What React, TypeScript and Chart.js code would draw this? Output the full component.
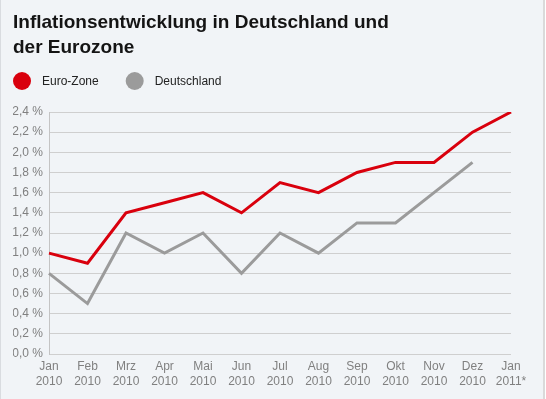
import React, { useEffect, useRef } from 'react';
import { Chart, registerables } from 'chart.js';

Chart.register(...registerables);

const categories: string[][] = [
  ['Jan', '2010'], ['Feb', '2010'], ['Mrz', '2010'], ['Apr', '2010'], ['Mai', '2010'],
  ['Jun', '2010'], ['Jul', '2010'], ['Aug', '2010'], ['Sep', '2010'], ['Okt', '2010'],
  ['Nov', '2010'], ['Dez', '2010'], ['Jan', '2011*'],
];
const euroZone: (number | null)[] = [1.0, 0.9, 1.4, 1.5, 1.6, 1.4, 1.7, 1.6, 1.8, 1.9, 1.9, 2.2, 2.4];
const deutschland: (number | null)[] = [0.8, 0.5, 1.2, 1.0, 1.2, 0.8, 1.2, 1.0, 1.3, 1.3, 1.6, 1.9, null];
const seriesNames = ['Euro-Zone', 'Deutschland'];
const titleLines = ['Inflationsentwicklung in Deutschland und', 'der Eurozone'];
const yMin = 0;
const yMax = 2.4;
const yStep = 0.2;

const FONT = 'Arial, "Liberation Sans", sans-serif';

const legendPlugin = {
  id: 'customLegend',
  afterDraw(chart: any) {
    const ctx = chart.ctx as CanvasRenderingContext2D;
    ctx.save();
    ctx.font = `12px ${FONT}`;
    ctx.textBaseline = 'middle';
    ctx.textAlign = 'left';
    let x = 22;
    const y = 81;
    chart.data.datasets.forEach((ds: any) => {
      ctx.beginPath();
      ctx.arc(x, y, 9, 0, Math.PI * 2);
      ctx.fillStyle = ds.borderColor;
      ctx.fill();
      ctx.fillStyle = '#222222';
      ctx.fillText(ds.label, x + 20, y + 1);
      x += 20 + ctx.measureText(ds.label).width + 36;
    });
    ctx.restore();
  },
};

export default function App() {
  const canvasRef = useRef<HTMLCanvasElement | null>(null);

  useEffect(() => {
    document.body.style.margin = '0';
    const canvas = canvasRef.current;
    if (!canvas) return;
    Chart.defaults.font.family = FONT;
    const chart = new Chart(canvas, {
      type: 'line',
      data: {
        labels: categories,
        datasets: [
          {
            label: seriesNames[0],
            data: euroZone,
            borderColor: '#d9000d',
            backgroundColor: '#d9000d',
            borderWidth: 3,
            pointRadius: 0,
            tension: 0,
            fill: false,
          } as any,
          {
            label: seriesNames[1],
            data: deutschland,
            borderColor: '#9b9b9b',
            backgroundColor: '#9b9b9b',
            borderWidth: 3,
            pointRadius: 0,
            tension: 0,
            fill: false,
          } as any,
        ],
      },
      options: {
        animation: false,
        responsive: false,
        devicePixelRatio: 1,
        layout: { padding: { left: 13, right: 35, top: 0, bottom: 13 } },
        plugins: {
          legend: { display: false },
          tooltip: { enabled: false },
          title: {
            display: true,
            text: titleLines,
            align: 'start',
            color: '#141414',
            font: { family: FONT, size: 19, weight: 'bold', lineHeight: 25 / 19 },
            padding: { top: 10, bottom: 52 },
          },
        },
        scales: {
          x: {
            type: 'category',
            offset: false,
            grid: { display: false },
            border: { display: false },
            ticks: {
              color: '#808080',
              font: { family: FONT, size: 12, lineHeight: 1.25 },
              padding: -3,
              maxRotation: 0,
              autoSkip: false,
            },
          },
          y: {
            min: yMin,
            max: yMax,
            afterFit: (scale: any) => { scale.width = 36; },
            grid: { color: '#cfcfcf', lineWidth: 1, drawTicks: false },
            border: { display: true, color: '#c4c4c4', width: 1 },
            ticks: {
              stepSize: yStep,
              color: '#808080',
              padding: 6,
              font: { family: FONT, size: 12 },
              callback: (v: any) => Number(v).toFixed(1).replace('.', ',') + ' %',
            },
          },
        },
      },
      plugins: [legendPlugin],
    } as any);
    return () => chart.destroy();
  }, []);

  return (
    <div style={{ position: 'absolute', left: 0, top: 0, width: 546, height: 399, background: '#ffffff' }}>
      <div
        style={{
          position: 'absolute', left: 0, top: 0, width: 545, height: 399,
          background: '#f1f4f7', borderLeft: '1px solid #d9dce0', borderRight: '2px solid #dadada',
          boxSizing: 'border-box',
        }}
      />
      <canvas ref={canvasRef} width={546} height={399} style={{ position: 'absolute', left: 0, top: 0, width: 546, height: 399 }} />
    </div>
  );
}
